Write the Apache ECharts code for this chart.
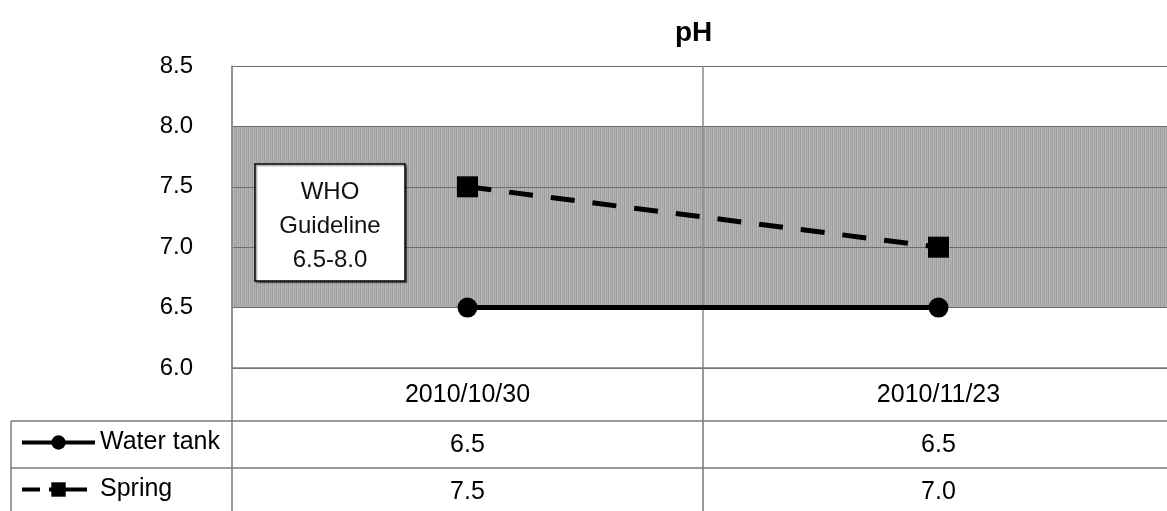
<!DOCTYPE html>
<html>
<head>
<meta charset="utf-8">
<script src="https://cdn.jsdelivr.net/npm/echarts@6/dist/echarts.min.js"></script>
<style>
html,body{margin:0;padding:0;background:#fff;}
#c{width:1167px;height:511px;}
</style>
</head>
<body>
<div id="c"></div>
<script>
const dates = ['2010/10/30', '2010/11/23'];
const waterTank = [6.5, 6.5];
const spring = [7.5, 7.0];
const seriesNames = ['Water tank', 'Spring'];
const guideline = [6.5, 8.0];
const yTicks = { min: 6.0, max: 8.5, interval: 0.5 };
const titleText = 'pH';
const noteLines = ['WHO', 'Guideline', '6.5-8.0'];

const FONT = '"Liberation Sans", Arial, sans-serif';

// hatched gray pattern for guideline band
const pat = document.createElement('canvas');
pat.width = 4; pat.height = 4;
const pctx = pat.getContext('2d');
const cols = ['#9c9c9c', '#b8b8b8', '#a4a4a4', '#b2b2b2'];
cols.forEach((c, i) => { pctx.fillStyle = c; pctx.fillRect(i, 0, 1, 4); });

const chart = echarts.init(document.getElementById('c'), null, { renderer: 'canvas' });

const tableLine = { color: '#7a7a7a', width: 1.5 };

function rowAxis(values, offset, tickLen, margin) {
  return {
    type: 'category',
    data: dates,
    position: 'bottom',
    offset: offset,
    boundaryGap: true,
    z: 2,
    axisLine: { show: true, lineStyle: tableLine },
    axisTick: { show: true, length: tickLen, interval: 0, alignWithLabel: false, lineStyle: tableLine },
    axisLabel: {
      show: true, interval: 0, margin: margin,
      fontFamily: FONT, fontSize: 25, color: '#000',
      formatter: (v, i) => values[i].toFixed(1)
    },
    splitLine: { show: false }
  };
}

const option = {
  backgroundColor: '#fff',
  animation: false,
  title: {
    text: titleText,
    left: 670, top: 14,
    textStyle: { fontFamily: FONT, fontSize: 28, fontWeight: 'bold', color: '#000' }
  },
  grid: { left: 232, width: 942, top: 66, bottom: 143, outerBoundsMode: 'none', containLabel: false },
  legend: {
    orient: 'vertical',
    left: 20, top: 430,
    padding: 0,
    itemWidth: 73, itemHeight: 18, itemGap: 22,
    textStyle: { fontFamily: FONT, fontSize: 25, color: '#000', lineHeight: 25 },
    data: [
      { name: seriesNames[0], lineStyle: { color: '#000', width: 4, type: 'solid' } },
      { name: seriesNames[1], lineStyle: { color: '#000', width: 4, type: [18, 9, 38, 20] } }
    ]
  },
  xAxis: [
    {
      type: 'category',
      data: dates,
      position: 'bottom',
      boundaryGap: true,
      z: 2,
      axisLine: { show: true, lineStyle: tableLine },
      axisTick: { show: true, length: 53, interval: 0, lineStyle: tableLine },
      axisLabel: { interval: 0, margin: 15, fontFamily: FONT, fontSize: 25, color: '#000' },
      splitLine: { show: true, interval: 0, lineStyle: { color: '#8a8a8a', width: 1.5 } }
    },
    rowAxis(waterTank, 53, 47, 12),
    rowAxis(spring, 100, 50, 12)
  ],
  yAxis: {
    type: 'value',
    min: yTicks.min, max: yTicks.max, interval: yTicks.interval,
    z: 2,
    axisLine: { show: true, lineStyle: { color: '#8a8a8a', width: 1.5 } },
    axisTick: { show: false },
    axisLabel: {
      margin: 39, fontFamily: FONT, fontSize: 24, color: '#000',
      formatter: v => v.toFixed(1)
    },
    splitLine: { show: true, lineStyle: { color: '#6e6e6e', width: 1.2 } }
  },
  series: [
    {
      name: seriesNames[0],
      type: 'line',
      data: waterTank,
      xAxisIndex: 0,
      z: 4,
      symbol: 'circle',
      symbolSize: 20,
      lineStyle: { color: '#000', width: 5 },
      itemStyle: { color: '#000' },
      markArea: {
        silent: true,
        itemStyle: { color: { image: pat, repeat: 'repeat' } },
        data: [[{ yAxis: guideline[0] }, { yAxis: guideline[1] }]]
      }
    },
    {
      name: seriesNames[1],
      type: 'line',
      data: spring,
      xAxisIndex: 0,
      z: 4,
      symbol: 'rect',
      symbolSize: 21,
      lineStyle: { color: '#000', width: 5, type: [24, 18] },
      itemStyle: { color: '#000' }
    }
  ],
  graphic: [
    {
      type: 'rect', z: 10,
      shape: { x: 255, y: 164, width: 150, height: 117 },
      style: { fill: '#fff', stroke: '#000', lineWidth: 1.5, shadowColor: 'rgba(0,0,0,0.35)', shadowOffsetX: 1.5, shadowOffsetY: 1.5, shadowBlur: 1 }
    },
    {
      type: 'text', z: 11,
      x: 330, y: 175,
      style: {
        text: noteLines.join('\n'),
        fontFamily: FONT, fontSize: 24, lineHeight: 34,
        fill: '#111', align: 'center', verticalAlign: 'top'
      }
    },
    // legend cell borders
    { type: 'line', z: 5, shape: { x1: 11, y1: 421, x2: 232, y2: 421 }, style: { stroke: '#7a7a7a', lineWidth: 1.5 } },
    { type: 'line', z: 5, shape: { x1: 11, y1: 468, x2: 232, y2: 468 }, style: { stroke: '#7a7a7a', lineWidth: 1.5 } },
    { type: 'line', z: 5, shape: { x1: 11, y1: 421, x2: 11, y2: 511 }, style: { stroke: '#7a7a7a', lineWidth: 1.5 } }
  ]
};

chart.setOption(option);
</script>
</body>
</html>
